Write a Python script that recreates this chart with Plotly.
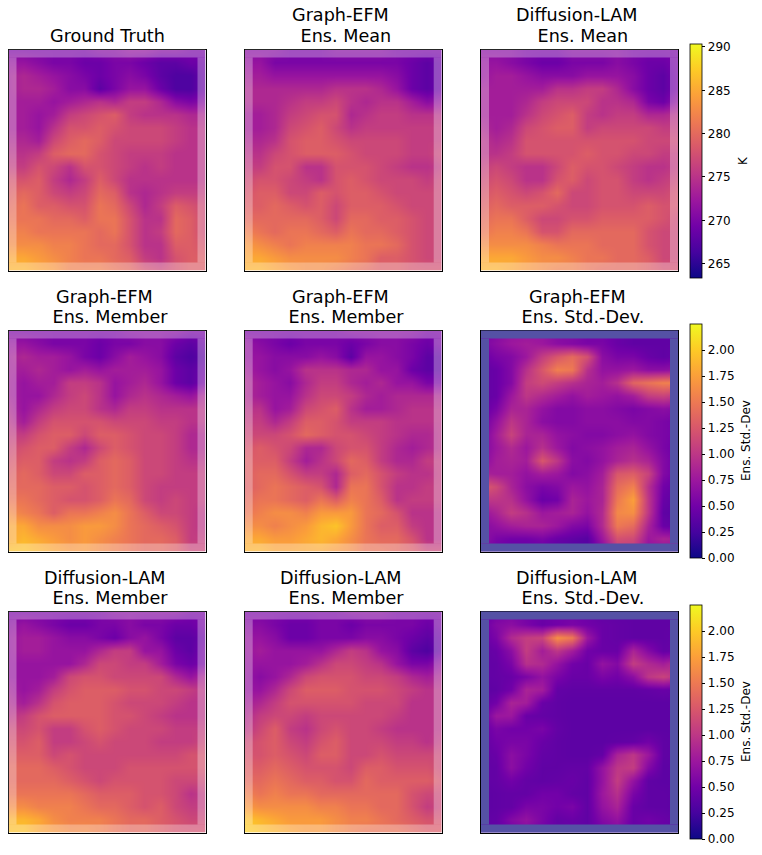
import plotly.graph_objects as go
import numpy as np

WIDTH = 762
HEIGHT = 855

# all fields, coarse grid, top row first
ground_truth = [
    [270, 270, 270, 270, 270, 270, 271, 271, 272, 272, 271, 271, 270, 270],
    [272, 272, 271, 270, 270, 269, 269, 270, 270, 269, 268, 268, 269, 269],
    [273, 274, 273, 272, 271, 270, 269, 270, 271, 270, 268, 267, 267, 269],
    [273, 274, 274, 273, 271, 271, 268, 270, 272, 272, 269, 267, 267, 269],
    [273, 273, 273, 272, 273, 274, 275, 274, 276, 276, 274, 271, 270, 271],
    [273, 273, 272, 273, 276, 277, 278, 279, 276, 275, 275, 275, 274, 274],
    [273, 273, 272, 275, 278, 278, 279, 278, 277, 277, 277, 276, 275, 275],
    [274, 274, 273, 277, 279, 280, 279, 277, 277, 277, 277, 276, 275, 275],
    [275, 275, 276, 279, 280, 280, 278, 277, 276, 276, 276, 275, 275, 275],
    [276, 276, 278, 277, 275, 278, 278, 277, 276, 275, 276, 275, 275, 275],
    [278, 278, 279, 276, 274, 276, 279, 277, 275, 275, 275, 275, 275, 275],
    [279, 280, 279, 277, 276, 277, 280, 279, 275, 274, 275, 276, 276, 276],
    [280, 281, 279, 279, 278, 278, 281, 280, 277, 274, 276, 279, 278, 277],
    [281, 281, 281, 280, 280, 279, 281, 281, 278, 275, 275, 280, 279, 277],
    [282, 282, 281, 281, 281, 281, 280, 281, 278, 275, 276, 280, 279, 277],
    [283, 283, 283, 282, 282, 281, 280, 280, 278, 275, 275, 279, 279, 278],
    [285, 285, 284, 283, 282, 281, 281, 280, 279, 276, 275, 278, 279, 279],
    [286, 286, 285, 284, 282, 282, 282, 281, 280, 278, 277, 278, 279, 279],
]
graph_efm_mean = [
    [271, 271, 271, 270, 270, 270, 271, 271, 271, 271, 270, 270, 270, 270],
    [272, 272, 270, 270, 270, 270, 270, 270, 270, 270, 270, 269, 268, 269],
    [273, 273, 272, 272, 272, 272, 272, 272, 272, 272, 271, 269, 268, 269],
    [274, 274, 274, 274, 274, 274, 275, 275, 275, 274, 272, 269, 268, 269],
    [274, 274, 274, 275, 276, 276, 277, 275, 274, 275, 275, 273, 271, 272],
    [273, 273, 274, 276, 277, 278, 278, 274, 275, 276, 276, 275, 275, 275],
    [273, 273, 274, 277, 278, 279, 277, 275, 276, 276, 276, 276, 276, 276],
    [274, 274, 275, 278, 279, 279, 278, 277, 277, 277, 277, 276, 276, 276],
    [275, 275, 277, 278, 279, 279, 279, 278, 277, 277, 277, 276, 276, 277],
    [276, 276, 278, 278, 275, 275, 278, 278, 278, 277, 276, 275, 275, 276],
    [277, 278, 278, 277, 276, 275, 278, 279, 278, 277, 277, 277, 276, 277],
    [278, 279, 279, 277, 277, 279, 278, 279, 279, 278, 277, 277, 277, 277],
    [279, 279, 280, 279, 278, 279, 277, 279, 279, 279, 278, 277, 277, 277],
    [280, 280, 280, 280, 280, 279, 277, 280, 280, 279, 279, 278, 277, 277],
    [282, 281, 280, 281, 281, 280, 279, 281, 280, 280, 279, 278, 277, 277],
    [284, 283, 282, 281, 282, 282, 282, 282, 281, 281, 280, 278, 277, 277],
    [285, 285, 284, 283, 283, 283, 283, 282, 281, 279, 279, 278, 277, 277],
    [286, 286, 285, 284, 283, 283, 282, 281, 280, 279, 279, 278, 278, 278],
]
diffusion_mean = [
    [271, 271, 271, 270, 270, 270, 271, 271, 271, 271, 270, 270, 270, 270],
    [272, 272, 271, 270, 269, 269, 270, 270, 270, 271, 270, 269, 269, 270],
    [272, 273, 273, 272, 271, 271, 271, 272, 272, 272, 271, 269, 268, 270],
    [273, 273, 273, 273, 273, 275, 275, 276, 276, 274, 271, 269, 268, 270],
    [273, 273, 273, 274, 276, 277, 277, 277, 275, 275, 274, 270, 269, 272],
    [273, 273, 273, 275, 277, 278, 279, 276, 275, 276, 276, 274, 274, 275],
    [274, 273, 274, 277, 278, 279, 279, 276, 277, 277, 277, 277, 276, 276],
    [275, 274, 275, 278, 278, 278, 278, 278, 278, 278, 278, 277, 277, 277],
    [275, 275, 276, 278, 278, 278, 278, 279, 278, 278, 277, 277, 276, 276],
    [276, 277, 276, 275, 275, 277, 279, 278, 278, 277, 276, 275, 275, 276],
    [277, 278, 277, 275, 275, 278, 279, 277, 278, 278, 276, 275, 276, 277],
    [278, 279, 278, 277, 278, 280, 277, 277, 278, 278, 277, 277, 277, 278],
    [279, 280, 279, 279, 279, 278, 277, 277, 278, 278, 278, 279, 278, 278],
    [280, 281, 281, 279, 277, 277, 278, 278, 279, 279, 279, 279, 278, 277],
    [281, 282, 282, 281, 278, 278, 280, 280, 280, 280, 280, 278, 277, 277],
    [283, 283, 283, 283, 282, 281, 281, 281, 280, 280, 280, 278, 277, 277],
    [285, 285, 285, 284, 283, 283, 282, 281, 281, 280, 280, 279, 277, 277],
    [286, 286, 285, 284, 283, 282, 282, 281, 280, 280, 280, 279, 278, 278],
]
graph_efm_member_a = [
    [270, 270, 270, 270, 270, 270, 270, 270, 271, 271, 271, 271, 270, 270],
    [272, 272, 271, 270, 270, 270, 269, 270, 270, 271, 271, 269, 268, 269],
    [273, 274, 273, 273, 272, 270, 269, 271, 273, 272, 271, 268, 267, 268],
    [273, 273, 274, 273, 272, 273, 272, 273, 273, 273, 272, 269, 268, 269],
    [273, 272, 273, 273, 276, 276, 275, 272, 273, 274, 272, 269, 268, 270],
    [273, 272, 272, 274, 276, 277, 275, 272, 274, 275, 274, 273, 272, 274],
    [274, 272, 274, 276, 277, 277, 275, 274, 276, 276, 275, 275, 275, 275],
    [275, 273, 276, 278, 278, 278, 278, 277, 277, 277, 276, 276, 275, 275],
    [276, 276, 278, 279, 279, 277, 279, 279, 278, 277, 277, 276, 274, 274],
    [277, 278, 279, 279, 276, 274, 277, 279, 278, 277, 277, 276, 274, 274],
    [278, 279, 279, 276, 275, 276, 279, 280, 279, 277, 277, 276, 275, 275],
    [279, 280, 279, 277, 277, 279, 279, 280, 279, 277, 277, 276, 276, 276],
    [280, 280, 280, 279, 279, 278, 279, 280, 279, 277, 276, 276, 276, 276],
    [281, 281, 280, 279, 278, 278, 279, 281, 280, 277, 276, 277, 276, 276],
    [283, 282, 281, 279, 281, 281, 282, 283, 281, 279, 277, 277, 276, 275],
    [285, 285, 283, 283, 283, 284, 284, 283, 281, 280, 279, 278, 276, 275],
    [285, 286, 285, 284, 283, 284, 283, 282, 281, 280, 280, 279, 276, 276],
    [287, 287, 286, 285, 284, 284, 283, 282, 281, 280, 280, 279, 277, 277],
]
graph_efm_member_b = [
    [270, 270, 270, 270, 270, 270, 270, 271, 271, 271, 271, 271, 270, 270],
    [272, 271, 270, 269, 270, 270, 270, 269, 270, 271, 271, 270, 269, 270],
    [272, 272, 271, 271, 271, 272, 271, 268, 272, 272, 271, 270, 268, 268],
    [273, 272, 271, 272, 275, 275, 275, 274, 274, 272, 272, 269, 268, 268],
    [274, 273, 272, 271, 274, 276, 276, 274, 273, 274, 272, 272, 270, 270],
    [274, 273, 272, 272, 275, 277, 277, 276, 274, 273, 274, 274, 274, 274],
    [275, 275, 272, 273, 277, 278, 279, 275, 273, 273, 274, 275, 275, 275],
    [276, 276, 274, 276, 279, 279, 278, 276, 276, 276, 275, 275, 275, 275],
    [277, 277, 277, 278, 280, 279, 278, 278, 277, 276, 275, 274, 274, 275],
    [278, 279, 278, 277, 274, 274, 277, 278, 278, 276, 274, 273, 274, 275],
    [279, 279, 279, 276, 273, 275, 277, 280, 279, 276, 274, 274, 276, 276],
    [279, 280, 280, 278, 276, 276, 274, 279, 280, 278, 276, 275, 275, 276],
    [279, 280, 281, 280, 279, 278, 274, 281, 281, 278, 275, 275, 276, 276],
    [280, 281, 281, 280, 279, 281, 279, 282, 281, 279, 275, 276, 276, 276],
    [281, 282, 283, 283, 282, 284, 284, 284, 281, 280, 278, 275, 275, 275],
    [283, 283, 282, 283, 284, 286, 287, 284, 281, 279, 279, 276, 275, 275],
    [285, 285, 284, 284, 285, 286, 285, 283, 281, 280, 280, 278, 275, 275],
    [286, 286, 285, 285, 285, 285, 284, 283, 281, 281, 280, 279, 277, 277],
]
diffusion_member_a = [
    [270, 270, 270, 270, 270, 270, 270, 271, 271, 271, 271, 271, 270, 270],
    [271, 272, 271, 270, 269, 269, 270, 270, 271, 270, 270, 269, 269, 270],
    [272, 273, 273, 272, 271, 271, 270, 269, 271, 272, 270, 268, 268, 269],
    [272, 273, 273, 272, 272, 272, 274, 276, 276, 272, 272, 269, 268, 270],
    [272, 272, 272, 272, 272, 274, 277, 277, 276, 276, 273, 270, 269, 270],
    [272, 272, 272, 273, 277, 278, 278, 277, 277, 277, 277, 274, 272, 274],
    [273, 272, 273, 276, 278, 279, 279, 279, 278, 278, 277, 277, 276, 275],
    [274, 273, 275, 278, 279, 279, 279, 278, 277, 277, 277, 276, 275, 275],
    [275, 276, 278, 279, 279, 279, 279, 278, 278, 277, 276, 275, 275, 275],
    [277, 277, 278, 276, 276, 278, 279, 278, 277, 277, 277, 276, 276, 276],
    [278, 278, 279, 276, 276, 277, 278, 277, 277, 277, 276, 276, 276, 277],
    [279, 279, 279, 277, 278, 277, 277, 277, 277, 277, 277, 277, 278, 278],
    [280, 280, 280, 279, 278, 277, 277, 277, 278, 278, 278, 278, 278, 278],
    [280, 280, 280, 280, 279, 278, 277, 278, 278, 278, 278, 277, 277, 277],
    [281, 281, 281, 281, 281, 280, 279, 279, 279, 278, 278, 277, 275, 276],
    [283, 283, 282, 282, 282, 281, 280, 280, 279, 278, 279, 277, 276, 276],
    [286, 286, 285, 283, 282, 282, 282, 281, 280, 280, 279, 278, 277, 277],
    [287, 287, 285, 284, 283, 283, 282, 281, 280, 280, 279, 278, 278, 278],
]
diffusion_member_b = [
    [270, 270, 270, 270, 270, 270, 270, 271, 271, 271, 270, 270, 270, 270],
    [271, 271, 270, 269, 269, 270, 270, 269, 270, 270, 270, 270, 269, 270],
    [272, 272, 271, 269, 269, 270, 270, 270, 271, 271, 270, 269, 268, 269],
    [272, 273, 272, 272, 272, 272, 274, 276, 275, 272, 271, 268, 267, 269],
    [272, 272, 272, 272, 273, 275, 277, 277, 276, 275, 272, 270, 270, 272],
    [272, 271, 272, 274, 277, 278, 278, 278, 277, 277, 276, 274, 273, 274],
    [272, 272, 274, 277, 279, 279, 279, 278, 278, 278, 277, 276, 275, 275],
    [273, 274, 276, 278, 278, 278, 278, 278, 277, 277, 277, 275, 275, 275],
    [274, 276, 277, 277, 276, 277, 277, 277, 277, 277, 276, 275, 275, 275],
    [275, 277, 279, 276, 275, 277, 278, 277, 277, 276, 275, 275, 275, 275],
    [277, 278, 279, 277, 276, 278, 279, 277, 277, 277, 276, 276, 275, 276],
    [278, 278, 279, 278, 277, 279, 279, 277, 277, 278, 277, 277, 277, 277],
    [279, 279, 280, 279, 278, 278, 278, 277, 279, 279, 278, 278, 278, 277],
    [280, 280, 281, 280, 279, 279, 278, 278, 280, 279, 279, 279, 279, 278],
    [282, 281, 282, 281, 281, 280, 280, 280, 280, 280, 280, 278, 277, 277],
    [284, 283, 283, 283, 283, 282, 282, 281, 281, 280, 280, 278, 276, 277],
    [287, 286, 285, 284, 284, 284, 283, 282, 282, 281, 280, 279, 278, 278],
    [288, 287, 286, 285, 284, 284, 283, 282, 281, 281, 281, 280, 279, 279],
]
graph_efm_std = [
    [0.5, 0.6, 0.7, 0.7, 0.7, 0.6, 0.6, 0.5, 0.5, 0.45, 0.4, 0.4, 0.4, 0.4],
    [0.55, 0.65, 0.75, 0.8, 0.75, 0.65, 0.6, 0.55, 0.55, 0.45, 0.4, 0.4, 0.4, 0.4],
    [0.45, 0.55, 0.6, 0.75, 1.05, 1.25, 1.4, 1.2, 0.65, 0.55, 0.55, 0.45, 0.4, 0.45],
    [0.4, 0.45, 0.6, 0.95, 1.25, 1.55, 1.5, 0.95, 0.7, 0.7, 0.75, 0.65, 0.65, 0.7],
    [0.4, 0.45, 0.6, 1.05, 1.15, 1.05, 0.95, 0.85, 0.8, 0.95, 1.35, 1.45, 1.55, 1.55],
    [0.4, 0.45, 0.75, 1.0, 0.9, 0.8, 0.7, 0.8, 0.75, 0.7, 0.8, 1.05, 1.1, 1.0],
    [0.4, 0.55, 0.85, 0.85, 0.7, 0.6, 0.6, 0.65, 0.65, 0.6, 0.55, 0.6, 0.65, 0.6],
    [0.45, 0.7, 1.0, 0.85, 0.65, 0.6, 0.6, 0.65, 0.65, 0.65, 0.6, 0.6, 0.55, 0.5],
    [0.5, 0.8, 1.1, 0.85, 0.85, 0.7, 0.65, 0.6, 0.6, 0.65, 0.7, 0.6, 0.55, 0.5],
    [0.55, 0.75, 0.9, 0.75, 0.95, 0.75, 0.6, 0.65, 0.7, 0.8, 0.85, 0.7, 0.55, 0.45],
    [0.6, 0.8, 0.85, 0.8, 1.25, 1.0, 0.65, 0.6, 0.7, 0.85, 0.95, 0.85, 0.6, 0.45],
    [0.85, 0.8, 0.8, 0.7, 0.8, 0.75, 0.6, 0.65, 0.8, 1.25, 1.3, 1.1, 0.6, 0.45],
    [1.3, 1.15, 0.85, 0.65, 0.55, 0.6, 0.75, 0.7, 0.85, 1.4, 1.55, 0.95, 0.5, 0.4],
    [1.0, 1.0, 0.95, 0.7, 0.45, 0.5, 0.85, 0.75, 0.85, 1.5, 1.75, 1.0, 0.45, 0.35],
    [0.7, 0.85, 1.05, 0.95, 0.75, 0.8, 0.85, 0.7, 0.9, 1.6, 1.65, 1.0, 0.4, 0.35],
    [0.6, 0.7, 0.8, 0.85, 0.85, 0.75, 0.6, 0.55, 0.9, 1.5, 1.4, 0.85, 0.45, 0.4],
    [0.7, 0.55, 0.5, 0.5, 0.55, 0.45, 0.4, 0.35, 0.75, 1.2, 1.15, 0.75, 0.85, 0.8],
    [0.6, 0.5, 0.45, 0.45, 0.45, 0.4, 0.35, 0.35, 0.6, 1.0, 1.0, 0.7, 0.7, 0.7],
]
diffusion_std = [
    [0.4, 0.5, 0.55, 0.5, 0.45, 0.5, 0.5, 0.45, 0.4, 0.4, 0.4, 0.4, 0.4, 0.4],
    [0.45, 0.6, 0.65, 0.55, 0.45, 0.5, 0.55, 0.5, 0.45, 0.42, 0.4, 0.4, 0.4, 0.4],
    [0.42, 0.55, 0.9, 1.05, 1.1, 1.65, 1.5, 0.75, 0.45, 0.42, 0.4, 0.4, 0.4, 0.42],
    [0.4, 0.45, 0.65, 1.05, 0.8, 1.0, 0.8, 0.5, 0.45, 0.45, 0.85, 0.6, 0.42, 0.45],
    [0.4, 0.42, 0.55, 0.95, 0.9, 0.7, 0.5, 0.45, 0.7, 0.6, 1.05, 0.9, 0.8, 0.95],
    [0.4, 0.42, 0.45, 0.55, 0.7, 0.55, 0.45, 0.45, 0.55, 0.5, 0.65, 1.0, 1.1, 0.95],
    [0.38, 0.4, 0.5, 0.85, 0.8, 0.42, 0.4, 0.4, 0.4, 0.4, 0.4, 0.42, 0.45, 0.42],
    [0.4, 0.5, 0.85, 0.8, 0.45, 0.4, 0.38, 0.38, 0.38, 0.38, 0.38, 0.38, 0.38, 0.38],
    [0.42, 0.75, 0.75, 0.45, 0.42, 0.4, 0.38, 0.38, 0.38, 0.38, 0.38, 0.38, 0.38, 0.38],
    [0.42, 0.55, 0.5, 0.5, 0.55, 0.42, 0.38, 0.38, 0.38, 0.38, 0.38, 0.38, 0.38, 0.38],
    [0.4, 0.5, 0.55, 0.55, 0.45, 0.4, 0.38, 0.38, 0.38, 0.4, 0.42, 0.5, 0.4, 0.38],
    [0.4, 0.45, 0.65, 0.55, 0.42, 0.4, 0.38, 0.38, 0.42, 0.85, 1.0, 0.75, 0.4, 0.38],
    [0.4, 0.42, 0.65, 0.5, 0.4, 0.4, 0.42, 0.42, 0.7, 1.0, 1.05, 0.6, 0.38, 0.38],
    [0.4, 0.42, 0.5, 0.42, 0.4, 0.42, 0.45, 0.4, 0.7, 1.05, 0.7, 0.4, 0.38, 0.38],
    [0.38, 0.4, 0.42, 0.42, 0.5, 0.5, 0.42, 0.4, 0.75, 0.95, 0.55, 0.4, 0.4, 0.38],
    [0.38, 0.4, 0.42, 0.55, 0.55, 0.5, 0.55, 0.4, 0.7, 0.85, 0.45, 0.4, 0.4, 0.38],
    [0.4, 0.42, 0.6, 0.7, 0.55, 0.42, 0.45, 0.4, 0.6, 0.7, 0.45, 0.5, 0.45, 0.4],
    [0.38, 0.4, 0.5, 0.6, 0.5, 0.42, 0.42, 0.4, 0.5, 0.6, 0.42, 0.45, 0.42, 0.4],
]

temp_ticks = [265, 270, 275, 280, 285, 290]
std_ticks = [0, 0.25, 0.5, 0.75, 1, 1.25, 1.5, 1.75, 2]

titles = [
    ["Ground Truth", "Graph-EFM\u00a0\n\u00a0Ens. Mean", "Diffusion-LAM\u00a0\n\u00a0Ens. Mean"],
    ["Graph-EFM\u00a0\n\u00a0Ens. Member", "Graph-EFM\u00a0\n\u00a0Ens. Member", "Graph-EFM\u00a0\n\u00a0Ens. Std.-Dev."],
    ["Diffusion-LAM\u00a0\n\u00a0Ens. Member", "Diffusion-LAM\u00a0\n\u00a0Ens. Member", "Diffusion-LAM\u00a0\n\u00a0Ens. Std.-Dev."],
]
fields = [
    [ground_truth, graph_efm_mean, diffusion_mean],
    [graph_efm_member_a, graph_efm_member_b, graph_efm_std],
    [diffusion_member_a, diffusion_member_b, diffusion_std],
]

col_left = [8.5, 244.7, 481]
row_top = [49.5, 330.5, 611.5]
panel_w = 197
panel_h = 221
band = 8
bar_left = 690
bar_w = 12
bar_top = [43.5, 324, 605]
bar_h = 234


def px_x(v):
    return v / WIDTH


def px_y(v):
    return 1 - v / HEIGHT


fig = go.Figure()
n = 0
for r in range(3):
    for c in range(3):
        n += 1
        name = "" if n == 1 else str(n)
        z = fields[r][c]
        is_std = z is graph_efm_std or z is diffusion_std
        show_bar = c == 2
        bar = None
        if show_bar:
            bar = dict(
                x=px_x(bar_left), xanchor="left", xpad=0,
                y=px_y(bar_top[r]), yanchor="top", ypad=0,
                len=bar_h / HEIGHT, lenmode="fraction",
                thickness=bar_w, thicknessmode="pixels",
                outlinecolor="black", outlinewidth=0.8,
                ticks="outside", ticklen=3.5, tickwidth=0.8, tickcolor="black",
                tickfont=dict(family="DejaVu Sans", size=12, color="black"),
                tickvals=std_ticks if is_std else temp_ticks,
                tickformat=".2f" if is_std else "d",
            )
            fig.add_annotation(
                text="Ens. Std.-Dev" if is_std else "K", textangle=-90,
                xref="paper", yref="paper",
                x=px_x(746 if is_std else 742.5), y=px_y(bar_top[r] + bar_h / 2),
                xanchor="center", yanchor="middle", showarrow=False,
                font=dict(family="DejaVu Sans", size=12, color="black"),
            )
        fig.add_trace(go.Heatmap(
            z=z, x=np.linspace(0, 1, len(z[0])), y=np.linspace(1, 0, len(z)),
            colorscale="Plasma", zsmooth="best",
            zmin=0 if is_std else 263.4, zmax=2.25 if is_std else 290.4,
            showscale=show_bar, colorbar=bar,
            xaxis="x" + name, yaxis="y" + name,
        ))
        x0, x1 = px_x(col_left[c]), px_x(col_left[c] + panel_w)
        y1, y0 = px_y(row_top[r]), px_y(row_top[r] + panel_h)
        axis = dict(showline=True, mirror=True, linecolor="black", linewidth=1,
                    showticklabels=False, ticks="", showgrid=False, zeroline=False, range=[0, 1])
        fig.update_layout({"xaxis" + name: dict(axis, domain=[x0, x1], anchor="y" + name),
                           "yaxis" + name: dict(axis, domain=[y0, y1], anchor="x" + name)})
        # boundary band, washed out on top of the field
        fill = "rgb(85,81,165)" if is_std else "rgba(255,255,255,0.3)"
        bx = band / panel_w
        by = band / panel_h
        for rect in [(0, 0, 1, by), (0, 1 - by, 1, 1), (0, by, bx, 1 - by), (1 - bx, by, 1, 1 - by)]:
            fig.add_shape(type="rect", xref="x" + name + " domain", yref="y" + name + " domain",
                          x0=rect[0], y0=rect[1], x1=rect[2], y1=rect[3],
                          fillcolor=fill, line_width=0, layer="above")
        # each title line on its own, matplotlib keeps them closer than plotly would
        lines = titles[r][c].split("\n")
        for i, line in enumerate(lines):
            fig.add_annotation(
                text=line, xref="paper", yref="paper",
                x=px_x(col_left[c] + panel_w / 2),
                y=px_y(row_top[r] - 13.5 - 20.5 * (len(lines) - 1 - i)),
                xanchor="center", yanchor="middle", showarrow=False,
                font=dict(family="DejaVu Sans", size=17.6, color="black"),
            )

fig.update_layout(
    width=WIDTH, height=HEIGHT, margin=dict(l=0, r=0, t=0, b=0, autoexpand=False),
    paper_bgcolor="white", plot_bgcolor="white", showlegend=False,
)
# drop the default body margin so the figure fills the window, no modebar over the titles
fig.write_html("out.html", config={"displayModeBar": False},
               post_script="document.body.style.margin = '0';")
